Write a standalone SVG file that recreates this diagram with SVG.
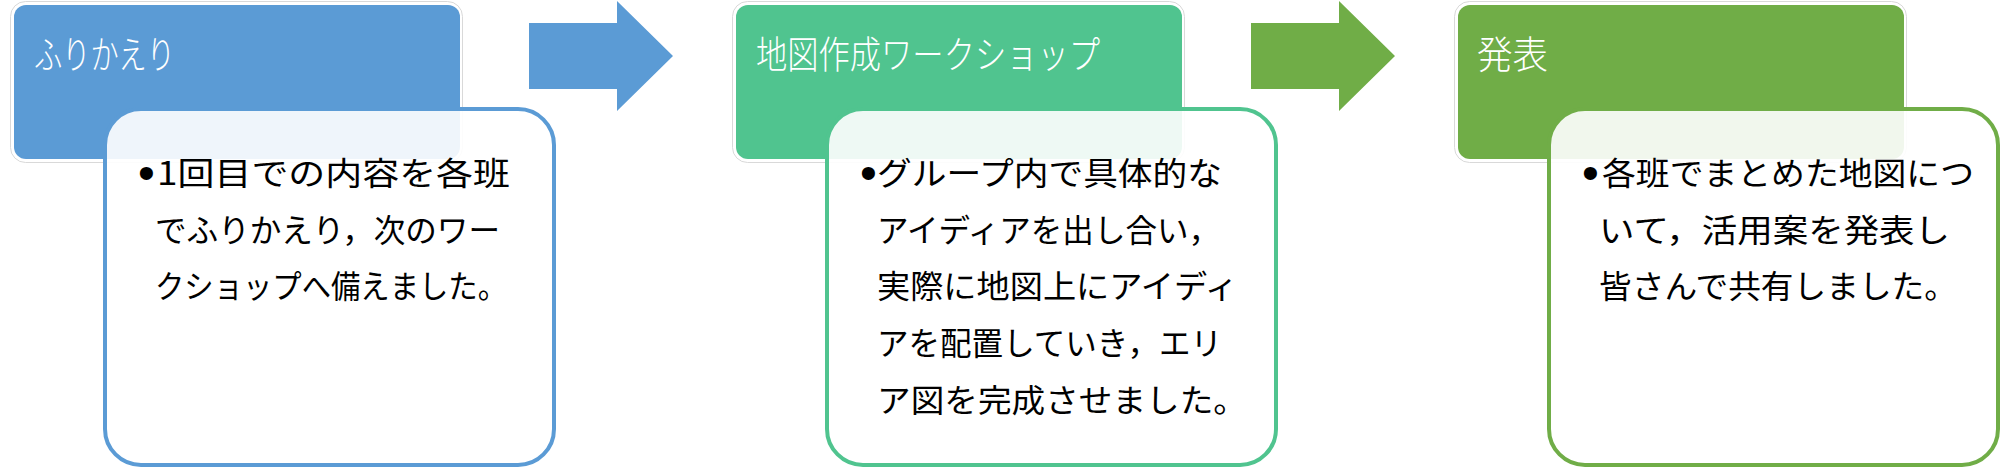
<svg xmlns="http://www.w3.org/2000/svg" width="2000" height="468" viewBox="0 0 2000 468">
<style>
.frame{fill:#ffffff;stroke:#d9d9d9;stroke-width:1}
.title{font-family:"Noto Sans CJK JP","Noto Sans",sans-serif;font-size:38px;font-weight:300;fill:#ffffff}
.body{fill:#ffffff;fill-opacity:0.9;stroke-width:4}
.txt{font-family:"Noto Sans CJK JP","Noto Sans",sans-serif;font-size:32px;font-weight:400;fill:#000000}
.bul{font-family:"Liberation Sans",sans-serif;font-size:48px;fill:#000000}
.blue{fill:#5B9BD5}
.teal{fill:#50C48F}
.green{fill:#70AD47}
</style>
<rect width="2000" height="468" fill="#ffffff"/>
<g id="connectors">
  <polygon class="blue" points="529,23 617,23 617,1 673,56 617,111 617,89 529,89"/>
  <polygon class="green" points="1251,23 1339,23 1339,1 1395,56 1339,111 1339,89 1251,89"/>
</g>
<g id="step1">
  <rect class="frame" x="10.5" y="1.5" width="452" height="161" rx="15"/>
  <rect class="blue" x="14" y="5" width="446" height="154" rx="12"/>
  <text class="title" x="34" y="68" textLength="141" lengthAdjust="spacingAndGlyphs">ふりかえり</text>
</g>
<g id="detail1">
  <rect class="body" x="105" y="109" width="449" height="356" rx="36" stroke="#5B9BD5"/>
  <text class="bul" x="138" y="189">•</text>
  <text class="txt" x="157" y="185" textLength="353" lengthAdjust="spacingAndGlyphs">1回目での内容を各班</text>
  <text class="txt" x="155" y="242" textLength="345" lengthAdjust="spacingAndGlyphs">でふりかえり，次のワー</text>
  <text class="txt" x="155" y="298" textLength="352" lengthAdjust="spacingAndGlyphs">クショップへ備えました。</text>
</g>
<g id="step2" transform="translate(722,0)">
  <rect class="frame" x="10.5" y="1.5" width="452" height="161" rx="15"/>
  <rect class="teal" x="14" y="5" width="446" height="154" rx="12"/>
  <text class="title" x="34" y="68" textLength="344" lengthAdjust="spacingAndGlyphs">地図作成ワークショップ</text>
</g>
<g id="detail2" transform="translate(722,0)">
  <rect class="body" x="105" y="109" width="449" height="356" rx="36" stroke="#50C48F"/>
  <text class="bul" x="138" y="189">•</text>
  <text class="txt" x="155" y="185" textLength="345" lengthAdjust="spacingAndGlyphs">グループ内で具体的な</text>
  <text class="txt" x="155" y="242" textLength="343" lengthAdjust="spacingAndGlyphs">アイディアを出し合い，</text>
  <text class="txt" x="155" y="298" textLength="361" lengthAdjust="spacingAndGlyphs">実際に地図上にアイディ</text>
  <text class="txt" x="155" y="355" textLength="345" lengthAdjust="spacingAndGlyphs">アを配置していき，エリ</text>
  <text class="txt" x="155" y="412" textLength="370" lengthAdjust="spacingAndGlyphs">ア図を完成させました。</text>
</g>
<g id="step3" transform="translate(1444,0)">
  <rect class="frame" x="10.5" y="1.5" width="452" height="161" rx="15"/>
  <rect class="green" x="14" y="5" width="446" height="154" rx="12"/>
  <text class="title" x="33" y="68" textLength="71" lengthAdjust="spacingAndGlyphs">発表</text>
</g>
<g id="detail3" transform="translate(1444,0)">
  <rect class="body" x="105" y="109" width="449" height="356" rx="36" stroke="#70AD47"/>
  <text class="bul" x="138" y="189">•</text>
  <text class="txt" x="158" y="185" textLength="372" lengthAdjust="spacingAndGlyphs">各班でまとめた地図につ</text>
  <text class="txt" x="155" y="242" textLength="351" lengthAdjust="spacingAndGlyphs">いて，活用案を発表し</text>
  <text class="txt" x="155" y="298" textLength="358" lengthAdjust="spacingAndGlyphs">皆さんで共有しました。</text>
</g>
</svg>
